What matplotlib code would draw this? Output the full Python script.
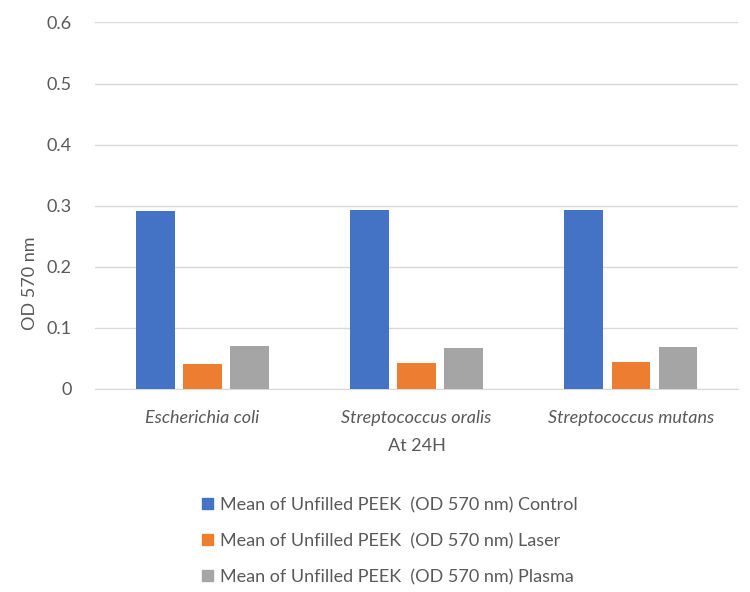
import numpy as np
import matplotlib.pyplot as plt
from matplotlib.patches import Patch

categories = ['Escherichia coli', 'Streptococcus oralis', 'Streptococcus mutans']
series_names = ['Mean of Unfilled PEEK  (OD 570 nm) Control',
                'Mean of Unfilled PEEK  (OD 570 nm) Laser',
                'Mean of Unfilled PEEK  (OD 570 nm) Plasma']
control = [0.292, 0.293, 0.293]
laser = [0.041, 0.043, 0.044]
plasma = [0.070, 0.067, 0.068]
yticks = [0, 0.1, 0.2, 0.3, 0.4, 0.5, 0.6]

colors = ['#4472C4', '#ED7D31', '#A5A5A5']
text_color = '#595959'

plt.rcParams['font.family'] = ['Lato', 'DejaVu Sans']

fig = plt.figure(figsize=(7.5, 5.92), dpi=100)
ax = fig.add_axes([0.127, 0.343, 0.857, 0.619])

x = np.arange(len(categories))
width = 0.18
step = 0.22
for i, (vals, c) in enumerate(zip([control, laser, plasma], colors)):
    ax.bar(x + (i - 1) * step, vals, width, color=c, zorder=3)

ax.set_xlim(-0.5, 2.5)
ax.set_ylim(0, 0.6)
ax.set_yticks(yticks)
ax.set_yticklabels(['0' if t == 0 else '%.1f' % t for t in yticks])
ax.set_xticks(x)
ax.set_xticklabels(categories, style='italic')
ax.tick_params(length=0, labelsize=13, colors=text_color)
ax.tick_params(axis='y', pad=17)
ax.tick_params(axis='x', pad=15)
ax.grid(axis='y', color='#d9d9d9', lw=1, zorder=0)
for s in ['top', 'right', 'left']:
    ax.spines[s].set_visible(False)
ax.spines['bottom'].set_color('#d9d9d9')
ax.set_xlabel('At 24H', fontsize=13, color=text_color, labelpad=9)

fig.text(30 / 750, 1 - 283 / 592, 'OD 570 nm', rotation=90, fontsize=13,
         color=text_color, ha='center', va='center')

handles = [Patch(color=c) for c in colors]
fig.legend(handles, series_names, loc='upper center', bbox_to_anchor=(0.52, 0.188),
           frameon=False, fontsize=13, labelcolor=text_color,
           handlelength=0.6, handleheight=0.6, handletextpad=0.4,
           labelspacing=1.1)

fig.savefig('out.png', dpi=100)
